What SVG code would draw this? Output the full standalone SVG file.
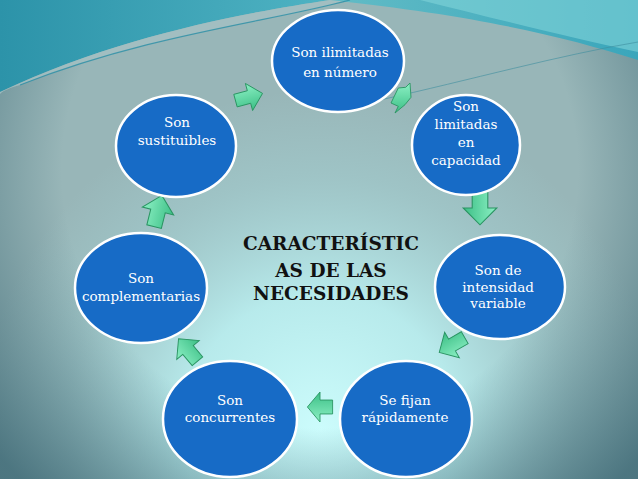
<svg xmlns="http://www.w3.org/2000/svg" width="638" height="479" viewBox="0 0 638 479">
  <defs>
    <radialGradient id="glow" gradientUnits="userSpaceOnUse" cx="320" cy="430" r="340">
      <stop offset="0" stop-color="#ccfcfc" stop-opacity="1"/>
      <stop offset="0.4" stop-color="#bbf0f1" stop-opacity="0.9"/>
      <stop offset="0.75" stop-color="#a8d8da" stop-opacity="0.4"/>
      <stop offset="1" stop-color="#a8d8da" stop-opacity="0"/>
    </radialGradient>
    <radialGradient id="vig" gradientUnits="userSpaceOnUse" cx="320" cy="170" r="430">
      <stop offset="0.6" stop-color="#3f6a76" stop-opacity="0"/>
      <stop offset="1" stop-color="#3f6a76" stop-opacity="0.85"/>
    </radialGradient>
    <linearGradient id="tealL" x1="0" y1="0" x2="1" y2="0">
      <stop offset="0" stop-color="#2c93a9"/>
      <stop offset="1" stop-color="#4fb3c3"/>
    </linearGradient>
    <linearGradient id="tealR" x1="0" y1="0" x2="1" y2="0">
      <stop offset="0" stop-color="#62bcc6"/>
      <stop offset="1" stop-color="#3aa6bb"/>
    </linearGradient>
    <linearGradient id="ag" x1="0" y1="0" x2="0" y2="1">
      <stop offset="0" stop-color="#8cf0c4"/>
      <stop offset="1" stop-color="#3cbf86"/>
    </linearGradient>
    <path id="arr" d="M-14,-6.5 L0,-6.5 L0,-14 L14,0 L0,14 L0,6.5 L-14,6.5 Z"/>
    <style>
      .node ellipse { fill: #176bc6; stroke: #ffffff; stroke-width: 2.5; }
      .node text { fill: #ffffff; font-family: "DejaVu Serif", "Liberation Serif", serif; font-size: 13.5px; text-anchor: middle; }
      .title { fill: #111111; font-family: "DejaVu Serif", "Liberation Serif", serif; font-size: 18.5px; font-weight: bold; text-anchor: middle; }
      .arrow { fill: url(#ag); stroke: #2a9462; stroke-width: 0.9; stroke-linejoin: miter; }
    </style>
  </defs>

  <!-- background -->
  <rect x="0" y="0" width="638" height="479" fill="#98b6b8"/>
  <rect x="0" y="0" width="638" height="479" fill="url(#glow)"/>
  <rect x="0" y="0" width="638" height="479" fill="url(#vig)"/>
  <path d="M0,0 H330 C250,12 120,35 0,92 Z" fill="url(#tealL)"/>
  <path d="M0,92 C120,35 250,12 330,0 H350 C270,22 150,34 20,85 C10,88 4,90 0,94 Z" fill="#a3c0c2" opacity="0.85"/>
  <path d="M330,0 H638 V60 C560,35 470,15 330,0 Z" fill="url(#tealR)"/>
  <path d="M420,0 C500,20 580,40 638,52 V0 Z" fill="#80d4d9" opacity="0.6"/>
  <path d="M20,85 C150,34 270,22 350,0" fill="none" stroke="#2b8ea6" stroke-width="1.2" opacity="0.8"/>
  <path d="M380,100 C470,80 560,55 638,42" fill="none" stroke="#3d8e9e" stroke-width="1" opacity="0.6"/>

  <!-- connectors -->
  <g id="connectors">
    <use href="#arr" class="arrow" transform="translate(249,97) rotate(-15)"/>
    <polygon class="arrow" points="398.3,88 405.7,87.3 410,83 411,97.3 405,104.7 395,113 398.3,106.3 391,103"/>
    <use href="#arr" class="arrow" transform="translate(480,208) rotate(90) scale(1.2)"/>
    <use href="#arr" class="arrow" transform="translate(452,345) rotate(150) scale(1.05)"/>
    <use href="#arr" class="arrow" transform="translate(320,407) rotate(180) scale(0.9,1.07)"/>
    <use href="#arr" class="arrow" transform="translate(188,350) rotate(-130) scale(1.05)"/>
    <use href="#arr" class="arrow" transform="translate(158,211) rotate(-76) scale(1.15)"/>
  </g>

  <g id="n1" class="node">
    <ellipse cx="338" cy="61" rx="66" ry="51"/>
    <text x="340" y="57">Son ilimitadas</text>
    <text x="340" y="77">en número</text>
  </g>
  <g id="n2" class="node">
    <ellipse cx="466" cy="145" rx="54" ry="50"/>
    <text x="466" y="111">Son</text>
    <text x="466" y="129">limitadas</text>
    <text x="466" y="147">en</text>
    <text x="466" y="165">capacidad</text>
  </g>
  <g id="n3" class="node">
    <ellipse cx="500" cy="287" rx="65" ry="52"/>
    <text x="498" y="275">Son de</text>
    <text x="498" y="292">intensidad</text>
    <text x="498" y="308">variable</text>
  </g>
  <g id="n4" class="node">
    <ellipse cx="406" cy="419" rx="66" ry="58"/>
    <text x="405" y="405">Se fijan</text>
    <text x="405" y="422">rápidamente</text>
  </g>
  <g id="n5" class="node">
    <ellipse cx="230" cy="419" rx="67" ry="58"/>
    <text x="230" y="405">Son</text>
    <text x="230" y="422">concurrentes</text>
  </g>
  <g id="n6" class="node">
    <ellipse cx="141" cy="288" rx="66" ry="55"/>
    <text x="141" y="283">Son</text>
    <text x="141" y="301">complementarias</text>
  </g>
  <g id="n7" class="node">
    <ellipse cx="176" cy="146" rx="60" ry="51"/>
    <text x="177" y="127">Son</text>
    <text x="177" y="145">sustituibles</text>
  </g>

  <g id="title">
    <text class="title" x="331" y="250">CARACTERÍSTIC</text>
    <text class="title" x="331" y="277">AS DE LAS</text>
    <text class="title" x="331" y="300">NECESIDADES</text>
  </g>
</svg>
